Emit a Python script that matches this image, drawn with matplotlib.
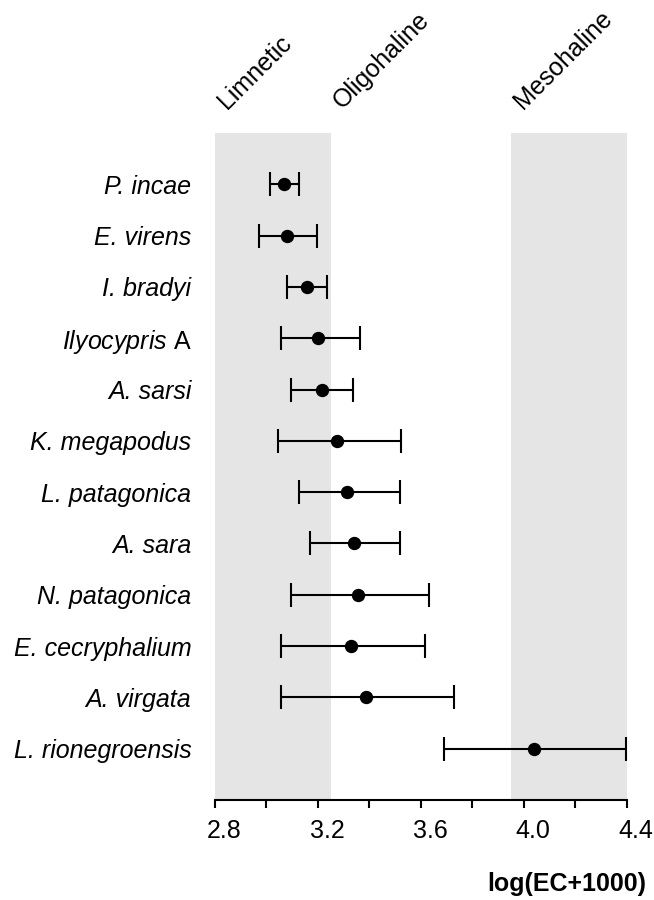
import matplotlib.pyplot as plt
import matplotlib.transforms as mtransforms
import numpy as np

plt.rcParams['font.family'] = ['Liberation Sans', 'DejaVu Sans']
plt.rcParams['mathtext.fontset'] = 'custom'
plt.rcParams['mathtext.it'] = 'Liberation Sans:italic'
plt.rcParams['mathtext.rm'] = 'Liberation Sans'

# species, top to bottom
species = ["P. incae", "E. virens", "I. bradyi", r"$\mathit{Ilyocypris}$ A", "A. sarsi",
           "K. megapodus", "L. patagonica", "A. sara", "N. patagonica",
           "E. cecryphalium", "A. virgata", "L. rionegroensis"]
mean = [3.068, 3.079, 3.156, 3.201, 3.217, 3.275, 3.313, 3.339, 3.356, 3.329, 3.387, 4.039]
low = [3.013, 2.972, 3.081, 3.055, 3.097, 3.045, 3.125, 3.168, 3.097, 3.055, 3.056, 3.691]
high = [3.126, 3.198, 3.235, 3.365, 3.336, 3.523, 3.519, 3.519, 3.632, 3.617, 3.730, 4.396]

# salinity zones (start of each zone on the log scale)
zone_names = ["Limnetic", "Oligohaline", "Mesohaline"]
zone_start = [2.8, 3.25, 3.95]
shaded = [(2.8, 3.25), (3.95, 4.4)]

fig = plt.figure(figsize=(6.54, 9), dpi=100)
ax = fig.add_axes([0.3287, 0.1111, 0.63, 0.7411])

for a, b in shaded:
    ax.axvspan(a, b, color="#e5e5e5", lw=0, zorder=0)

y = np.arange(len(species))
mean = np.array(mean)
xerr = [mean - np.array(low), np.array(high) - mean]
ax.errorbar(mean, y, xerr=xerr, fmt="o", color="black", ms=8.6,
            elinewidth=1.5, capsize=8.3, capthick=1.5, zorder=3)

ax.set_xlim(2.8, 4.4)
ax.set_ylim(len(species), -1)
ax.set_yticks(y)
ax.set_yticklabels(species, fontsize=18)
for i, lab in enumerate(ax.get_yticklabels()):
    if "mathit" not in species[i]:
        lab.set_fontstyle("italic")
ax.tick_params(axis="y", length=0, pad=17)

ticks = np.arange(2.8, 4.41, 0.2)
ax.set_xticks(ticks)
ax.set_xticklabels([f"{t:.1f}" if i % 2 == 0 else "" for i, t in enumerate(ticks)],
                   fontsize=18)
ax.tick_params(axis="x", length=6, width=1.5, pad=8)
offset = mtransforms.ScaledTranslation(9 / 100, 0, fig.dpi_scale_trans)
for lab in ax.get_xticklabels():
    lab.set_transform(lab.get_transform() + offset)

for s in ["top", "right", "left"]:
    ax.spines[s].set_visible(False)
ax.spines["bottom"].set_linewidth(1.5)

trans = mtransforms.blended_transform_factory(ax.transData, ax.transAxes)
for name, x0 in zip(zone_names, zone_start):
    ax.text(x0 + 0.045, 1.035, name, transform=trans, rotation=45,
            rotation_mode="anchor", ha="left", va="baseline", fontsize=18)

fig.text(646 / 654, 1 - 884 / 900, "log(EC+1000)", ha="right", va="center",
         fontsize=18, fontweight="bold")

fig.savefig("out.png", dpi=100)
